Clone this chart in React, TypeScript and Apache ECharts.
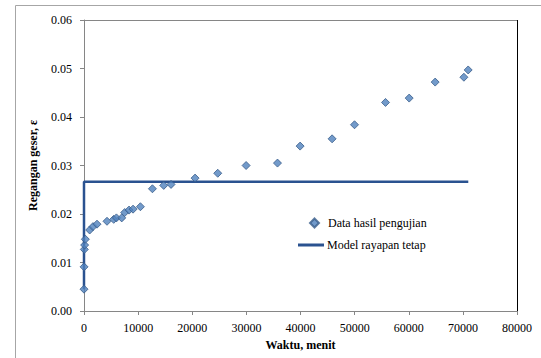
import React, { useEffect, useRef } from "react";
import * as echarts from "echarts";

const testTimes = [0, 10, 60, 120, 250, 1050, 1660, 2400, 4250, 5490, 5990, 6970, 7520, 8320, 9060, 10420, 12640, 14730, 16080, 20520, 24710, 29950, 35750, 39930, 45840, 49980, 55710, 60080, 64880, 70190, 70980];
const testStrains = [0.0045, 0.0091, 0.0127, 0.0136, 0.0148, 0.0167, 0.0174, 0.0179, 0.0185, 0.0189, 0.0192, 0.0192, 0.0203, 0.0208, 0.021, 0.0215, 0.0252, 0.0259, 0.0261, 0.0274, 0.0284, 0.03, 0.0305, 0.034, 0.0355, 0.0384, 0.043, 0.0439, 0.0472, 0.0482, 0.0497];
const modelTimes = [0, 0, 71000];
const modelStrains = [0.0045, 0.02665, 0.02665];

const seriesNames = ["Data hasil pengujian", "Model rayapan tetap"];
const xTitle = "Waktu, menit";
const yTitle = "Regangan geser, ε";

export default function App() {
  const ref = useRef<HTMLDivElement>(null);
  useEffect(() => {
    if (!ref.current) return;
    const chart = echarts.init(ref.current, null, { renderer: "svg" });
    const font = "Liberation Serif";
    chart.setOption({
      animation: false,
      textStyle: { fontFamily: font },
      grid: { left: 84, top: 20, width: 433, height: 291, show: false },
      legend: [
        {
          left: 304,
          top: 212,
          itemWidth: 9,
          itemHeight: 9,
          icon: "diamond",
          textStyle: { fontFamily: font, fontSize: 12, color: "#000", padding: [0, 0, 0, 4] },
          data: [{ name: seriesNames[0] }],
        },
        {
          left: 293,
          top: 234,
          itemWidth: 26,
          itemHeight: 3,
          icon: "rect",
          textStyle: { fontFamily: font, fontSize: 12, color: "#000", padding: [0, 0, 0, -2] },
          data: [{ name: seriesNames[1] }],
        },
      ],
      xAxis: {
        type: "value",
        min: 0,
        max: 80000,
        interval: 10000,
        name: xTitle,
        nameLocation: "middle",
        nameGap: 25,
        nameTextStyle: { fontFamily: font, fontSize: 12, fontWeight: "bold", color: "#000" },
        axisLine: { show: true, lineStyle: { color: "#868686", width: 1 } },
        axisTick: { show: true, length: 4, inside: false, lineStyle: { color: "#868686" } },
        axisLabel: {
          fontFamily: font,
          fontSize: 12,
          color: "#000",
          margin: 11,
          formatter: (v: number) => String(v),
        },
        splitLine: { show: false },
      },
      yAxis: {
        type: "value",
        min: 0,
        max: 0.06,
        interval: 0.01,
        name: yTitle,
        nameLocation: "middle",
        nameGap: 45,
        nameRotate: 90,
        nameTextStyle: { fontFamily: font, fontSize: 12, fontWeight: "bold", color: "#000" },
        axisLine: { show: true, lineStyle: { color: "#868686", width: 1 } },
        axisTick: { show: true, length: 4, inside: false, lineStyle: { color: "#868686" } },
        axisLabel: {
          fontFamily: font,
          fontSize: 12,
          color: "#000",
          margin: 12,
          formatter: (v: number) => v.toFixed(2),
        },
        splitLine: { show: false },
      },
      graphic: [
        {
          type: "rect",
          shape: { x: 15.5, y: 5.5, width: 700, height: 500 },
          style: { fill: "none", stroke: "#a6a6a6", lineWidth: 1 },
          silent: true,
          z: -10,
        },
        {
          type: "line",
          shape: { x1: 84, y1: 20.5, x2: 517, y2: 20.5 },
          style: { stroke: "#868686", lineWidth: 1 },
          silent: true,
        },
        {
          type: "line",
          shape: { x1: 517.5, y1: 20, x2: 517.5, y2: 311 },
          style: { stroke: "#000", lineWidth: 1 },
          silent: true,
        },
      ],
      series: [
        {
          name: seriesNames[1],
          type: "line",
          symbol: "none",
          data: modelTimes.map((t, i) => [t, modelStrains[i]]),
          lineStyle: { color: "#2a5290", width: 2.5 },
          itemStyle: { color: "#2a5290" },
          z: 2,
        },
        {
          name: seriesNames[0],
          type: "scatter",
          symbol: "diamond",
          symbolSize: 8,
          data: testTimes.map((t, i) => [t, testStrains[i]]),
          itemStyle: { color: "#4f81bd", borderColor: "#385d8a", borderWidth: 1 },
          z: 3,
        },
      ],
    });
    return () => chart.dispose();
  }, []);
  return (
    <div
      ref={ref}
      style={{ position: "absolute", left: 0, top: 0, width: 541, height: 358 }}
    />
  );
}
